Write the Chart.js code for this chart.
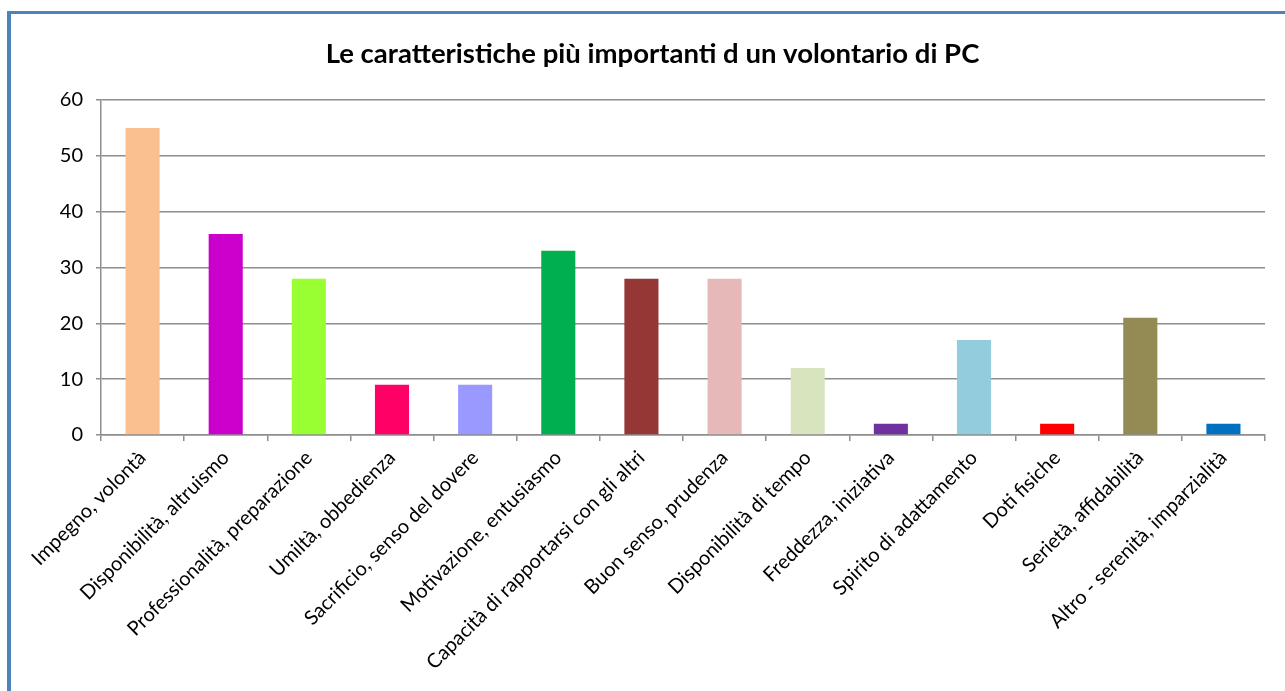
<!DOCTYPE html>
<html>
<head>
<meta charset="utf-8">
<script src="https://cdn.jsdelivr.net/npm/chart.js@4.4.0/dist/chart.umd.min.js"></script>
<style>
  html, body { margin: 0; padding: 0; background: #fff; overflow: hidden; }
  #wrap { position: relative; width: 1285px; height: 691px; }
  #frame {
    position: absolute; left: 7px; top: 11px; width: 1300px; height: 700px;
    border-left: 4px solid #4F81BD; border-top: 3px solid #4F81BD;
    pointer-events: none;
  }
</style>
</head>
<body>
<div id="wrap">
  <canvas id="bar-chart" width="1285" height="691"></canvas>
  <div id="frame"></div>
</div>
<script>
var categories = [
    "Impegno, volontà",
    "Disponibilità, altruismo",
    "Professionalità, preparazione",
    "Umiltà, obbedienza",
    "Sacrificio, senso del dovere",
    "Motivazione, entusiasmo",
    "Capacità di rapportarsi con gli altri",
    "Buon senso, prudenza",
    "Disponibilità di tempo",
    "Freddezza, iniziativa",
    "Spirito di adattamento",
    "Doti fisiche",
    "Serietà, affidabilità",
    "Altro - serenità, imparzialità"
];
var values = [55, 36, 28, 9, 9, 33, 28, 28, 12, 2, 17, 2, 21, 2];
var barColors = [
    "#FAC090", "#CC00CC", "#99FF33", "#FF0066", "#9999FF", "#00B050", "#953735",
    "#E6B9B8", "#D7E4BD", "#7030A0", "#93CDDD", "#FF0000", "#948A54", "#0070C0"
];
var yTicks = [0, 10, 20, 30, 40, 50, 60];

var fontFamily = "Lato, 'Open Sans', sans-serif";

var data = {
    labels: categories,
    datasets: [{
        data: values,
        backgroundColor: barColors,
        borderWidth: 0,
        categoryPercentage: 1,
        barPercentage: 0.41
    }]
};

var options = {
    responsive: false,
    animation: false,
    layout: {
        padding: { left: 40, right: 20, top: 0, bottom: 0 }
    },
    plugins: {
        legend: { display: false },
        tooltip: { enabled: false },
        title: {
            display: true,
            text: "Le caratteristiche più importanti d un volontario di PC",
            color: "#000",
            font: { family: fontFamily, size: 27.5, weight: "bold", lineHeight: 1.2 },
            padding: { top: 38, bottom: 29 }
        }
    },
    scales: {
        x: {
            grid: {
                offset: true,
                drawOnChartArea: false,
                drawTicks: true,
                tickLength: 6,
                color: "#8e8e8e",
                lineWidth: 1.5
            },
            border: { display: true, color: "#8e8e8e", width: 1.5 },
            ticks: {
                color: "#000",
                font: { family: fontFamily, size: 20 },
                minRotation: 45,
                maxRotation: 45,
                autoSkip: false,
                padding: 5
            },
            afterFit: function (scale) { scale.height = 256; }
        },
        y: {
            min: 0,
            max: 60,
            afterBuildTicks: function (scale) {
                scale.ticks = yTicks.map(function (v) { return { value: v }; });
            },
            grid: {
                color: "#8e8e8e",
                lineWidth: 1.5,
                tickLength: 5
            },
            border: { display: true, color: "#8e8e8e", width: 1.5 },
            ticks: {
                color: "#000",
                font: { family: fontFamily, size: 20 },
                padding: 13
            },
            afterFit: function (scale) { scale.width = 61; }
        }
    }
};

new Chart(document.getElementById("bar-chart"), {
    type: "bar",
    data: data,
    options: options
});
</script>
</body>
</html>
